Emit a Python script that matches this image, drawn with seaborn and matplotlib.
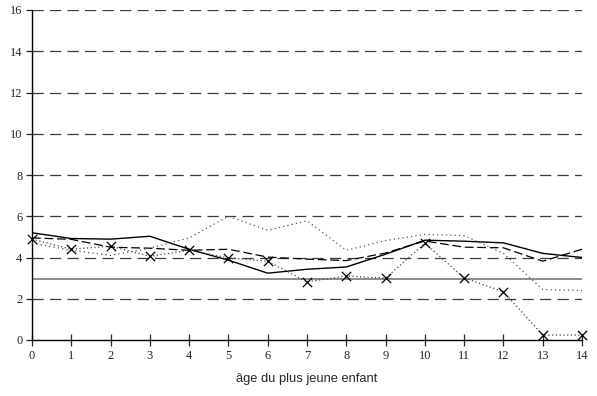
import matplotlib
matplotlib.use("Agg")
import matplotlib.pyplot as plt
import seaborn as sns
import pandas as pd

ages = list(range(15))
serie_pleine = [5.2, 4.92, 4.89, 5.03, 4.4, 3.87, 3.24, 3.43, 3.54, 4.16, 4.84, 4.79, 4.71, 4.2, 4.0]
serie_tirets = [4.95, 4.88, 4.5, 4.45, 4.35, 4.4, 4.02, 3.92, 3.85, 4.22, 4.8, 4.5, 4.47, 3.82, 4.4]
serie_points = [4.7, 4.35, 4.1, 4.45, 4.95, 6.0, 5.32, 5.78, 4.35, 4.82, 5.12, 5.06, 4.2, 2.45, 2.4]
serie_croix = [4.89, 4.4, 4.55, 4.06, 4.35, 3.98, 3.82, 2.82, 3.1, 3.0, 4.69, 3.01, 2.34, 0.24, 0.24]
reference = [2.95] * 15
y_ticks = [0, 2, 4, 6, 8, 10, 12, 14, 16]

df = pd.DataFrame({"age": ages, "pleine": serie_pleine, "tirets": serie_tirets,
                   "points": serie_points, "croix": serie_croix, "ref": reference})

sns.set_style("white")
plt.rcParams["font.family"] = ["Liberation Serif", "DejaVu Serif"]

fig = plt.figure(figsize=(5.97, 3.96), dpi=100)
ax = fig.add_axes([32 / 597, 1 - 340 / 396, 550 / 597, 330 / 396])

for yv in y_ticks[1:]:
    ax.axhline(yv, color="#3a3a3a", lw=0.9, dashes=(9, 5), zorder=1)

sns.lineplot(data=df, x="age", y="ref", ax=ax, color="#8a8a8a", lw=1.4, zorder=2)
sns.lineplot(data=df, x="age", y="pleine", ax=ax, color="black", lw=1.0, zorder=3)
sns.lineplot(data=df, x="age", y="tirets", ax=ax, color="black", lw=0.9, zorder=3,
             dashes=False, linestyle=(0, (7, 3)))
sns.lineplot(data=df, x="age", y="points", ax=ax, color="#555555", lw=0.9, zorder=3,
             linestyle=(0, (1, 2.5)))
sns.lineplot(data=df, x="age", y="croix", ax=ax, color="#444444", lw=0.9, zorder=4,
             linestyle=(0, (1, 2)))
sns.scatterplot(data=df, x="age", y="croix", ax=ax, color="black", marker="x",
                s=45, linewidth=0.9, zorder=5, clip_on=False)

ax.set_xlim(0, 14)
ax.set_ylim(0, 16)
ax.set_xticks(ages)
ax.set_yticks(y_ticks)
ax.tick_params(axis="x", direction="inout", length=8, width=0.9, labelsize=9, pad=3)
ax.tick_params(axis="y", direction="out", length=4, width=0.9, labelsize=9, pad=3)
ax.tick_params(bottom=True, left=True)
for s in ["top", "right"]:
    ax.spines[s].set_visible(False)
for s in ["left", "bottom"]:
    ax.spines[s].set_color("black")
    ax.spines[s].set_linewidth(1.0)
ax.set_ylabel("")
ax.set_xlabel("âge du plus jeune enfant", fontfamily="Liberation Sans", fontsize=9.3, labelpad=8)
ax.patch.set_alpha(0)

fig.savefig("out.png", dpi=100)
